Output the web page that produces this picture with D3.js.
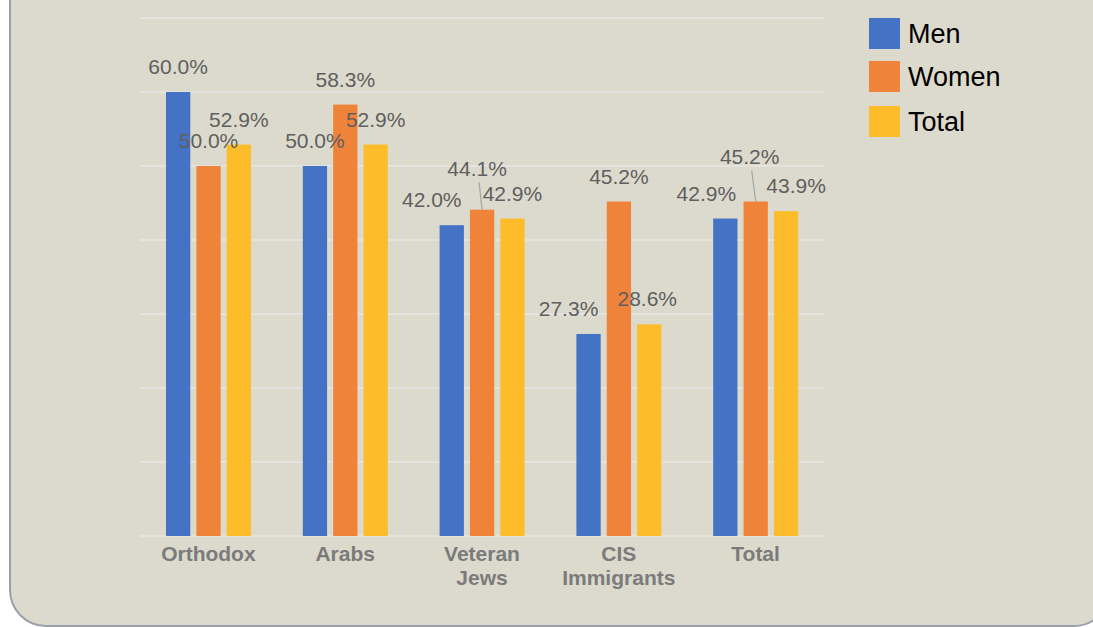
<!DOCTYPE html>
<html>
<head>
<meta charset="utf-8">
<script src="https://d3js.org/d3.v7.min.js"></script>
<style>
body {margin: 0; background: #fff;}
svg {display: block; font-family: "Liberation Sans", Arial, sans-serif;}
.bar-label {font-size: 21px; fill: #5f5f5f; text-anchor: middle;}
.cat-label {font-size: 21px; font-weight: bold; fill: #7b7b7b; text-anchor: middle;}
.legend text {font-size: 27px; fill: #000;}
</style>
</head>
<body>
<svg width="1093" height="627"></svg>
<script>
// data
var categories = ["Orthodox", "Arabs", "Veteran\nJews", "CIS\nImmigrants", "Total"];
var series = ["Men", "Women", "Total"];
var men   = [60.0, 50.0, 42.0, 27.3, 42.9];
var women = [50.0, 58.3, 44.1, 45.2, 45.2];
var total = [52.9, 52.9, 42.9, 28.6, 43.9];
var yTicks = [0, 10, 20, 30, 40, 50, 60, 70];

// manual nudges for labels that Excel moved around (dx, dy), with leader flag
var labelNudge = {
  "Men-2": [-20, 0], "Men-3": [-20, 0], "Men-4": [-19, 0],
  "Women-2": [-5, -16, true], "Women-4": [-6, -20, true],
  "Total-3": [-2, 0], "Total-4": [10, 0]
};

var colors = {Men: "#4472c4", Women: "#f0833a", Total: "#fdbd2b"};
var values = {Men: men, Women: women, Total: total};

var svg = d3.select("svg");

// card background
svg.append("rect")
  .attr("x", 10).attr("y", -50)
  .attr("width", 1100).attr("height", 676)
  .attr("rx", 36)
  .attr("fill", "#dcdacd")
  .attr("stroke", "#9aa0ab")
  .attr("stroke-width", 2);

var x0 = d3.scaleBand().domain(categories).range([140, 824]).padding(0);
var x1 = d3.scaleBand().domain(series).range([26, 111]).paddingInner(0.2);
var y = d3.scaleLinear().domain([0, 70]).range([536, 18]);

// gridlines
svg.append("g").selectAll("line").data(yTicks).enter().append("line")
  .attr("x1", 140).attr("x2", 824)
  .attr("y1", function(d) { return y(d); })
  .attr("y2", function(d) { return y(d); })
  .attr("stroke", "#e4e3de")
  .attr("stroke-width", 2);

var groups = svg.append("g").selectAll("g").data(categories).enter().append("g")
  .attr("transform", function(d) { return "translate(" + x0(d) + ",0)"; });

groups.selectAll("rect")
  .data(function(d, i) { return series.map(function(s) { return {s: s, v: values[s][i], i: i}; }); })
  .enter().append("rect")
  .attr("x", function(d) { return x1(d.s); })
  .attr("y", function(d) { return y(d.v); })
  .attr("width", x1.bandwidth())
  .attr("height", function(d) { return y(0) - y(d.v); })
  .attr("fill", function(d) { return colors[d.s]; });

// data labels
var labels = [];
categories.forEach(function(c, i) {
  series.forEach(function(s) {
    var n = labelNudge[s + "-" + i] || [0, 0];
    labels.push({
      cx: x0(c) + x1(s) + x1.bandwidth() / 2,
      top: y(values[s][i]),
      v: values[s][i], dx: n[0], dy: n[1], leader: n[2]
    });
  });
});

svg.append("g").selectAll("line").data(labels.filter(function(d) { return d.leader; }))
  .enter().append("line")
  .attr("x1", function(d) { return d.cx + d.dx + 2; })
  .attr("y1", function(d) { return d.top - 18 + d.dy + 7; })
  .attr("x2", function(d) { return d.cx; })
  .attr("y2", function(d) { return d.top; })
  .attr("stroke", "#a6a6a6")
  .attr("stroke-width", 1.3);

svg.append("g").selectAll("text").data(labels).enter().append("text")
  .attr("class", "bar-label")
  .attr("x", function(d) { return d.cx + d.dx; })
  .attr("y", function(d) { return d.top - 18 + d.dy; })
  .text(function(d) { return d.v.toFixed(1) + "%"; });

// category axis labels
var cat = svg.append("g").selectAll("text").data(categories).enter().append("text")
  .attr("class", "cat-label")
  .attr("x", function(d) { return x0(d) + x0.bandwidth() / 2; })
  .attr("y", 561);
cat.selectAll("tspan")
  .data(function(d) { return d.split("\n"); })
  .enter().append("tspan")
  .attr("x", function() { return this.parentNode.getAttribute("x"); })
  .attr("dy", function(d, i) { return i ? 24 : 0; })
  .text(function(d) { return d; });

// legend
var legend = svg.append("g").attr("class", "legend").selectAll("g").data(series).enter().append("g")
  .attr("transform", function(d, i) { return "translate(869," + [18, 61, 106][i] + ")"; });
legend.append("rect")
  .attr("width", 31).attr("height", 31)
  .attr("fill", function(d) { return colors[d]; });
legend.append("text")
  .attr("x", 39).attr("y", 25)
  .text(function(d) { return d; });
</script>
</body>
</html>
